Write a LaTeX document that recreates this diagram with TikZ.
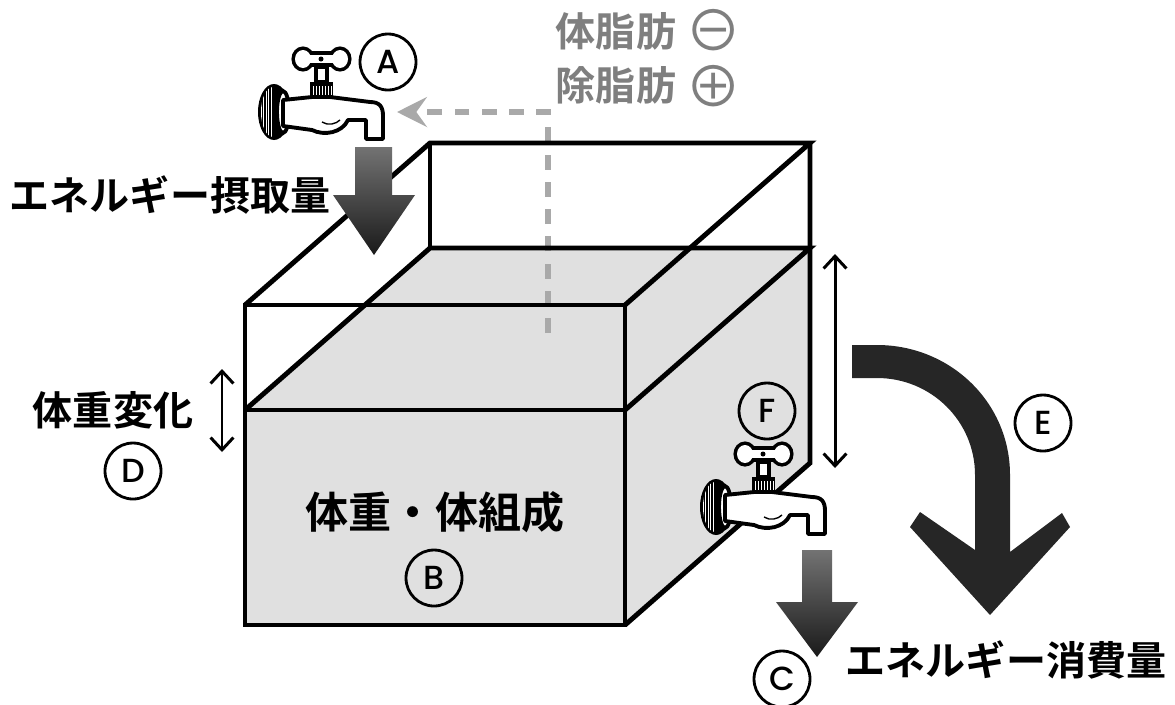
\documentclass[tikz,border=0pt]{standalone}
\usepackage{fontspec}
\usepackage{tikz}
\usetikzlibrary{arrows.meta}
\setmainfont{Poppins}
\newfontfamily\tagfont{Poppins Medium}
\newfontfamily\jpfont{Noto Sans CJK JP}[BoldFont={* Bold}]
\definecolor{TankGray}{HTML}{E0E0E0}
\definecolor{DashGray}{HTML}{A9A9A9}
\definecolor{NoteGray}{HTML}{7F7F7F}
\definecolor{FlowDark}{HTML}{262626}

\tikzset{
  jptext/.style={inner sep=0pt, font=\jpfont\bfseries\fontsize{22.8}{26}\selectfont},
  notetext/.style={jptext, text=NoteGray},
  signtext/.style={inner sep=0pt, text=NoteGray, font=\jpfont\fontsize{32}{32}\selectfont},
  tag/.style={circle, draw, line width=1.6pt, minimum size=1.12cm, inner sep=0pt,
    font=\tagfont\fontsize{19}{19}\selectfont},
  edge/.style={line width=2.8pt},
  faucet/.pic={
    % knurled wheel
    \fill (2,0) ellipse [x radius=16, y radius=28];
    \begin{scope}
      \clip (1,0) ellipse [x radius=12, y radius=25];
      \foreach \k in {-11,-8.5,...,1} \draw[white, line width=0.5pt] (\k,-26) -- (\k,26);
    \end{scope}
    \filldraw[fill=white, line width=2.2pt] (11,0) ellipse [x radius=6, y radius=21];
    % body and spout
    \filldraw[fill=white, line width=2.2pt, line join=round]
      (11,-12) -- (40,-15) -- (58,-15) -- (98,-10)
      .. controls (108,-10) and (111,-5) .. (111,4) -- (111,27) -- (94,27) -- (94,8) -- (76,8)
      .. controls (70,21) and (52,24) .. (40,18) -- (11,14) -- cycle;
    \draw[line width=0.8pt] (50,10) .. controls (56,14) and (64,12) .. (68,8);
    % bonnet nut
    \fill (38,-30) rectangle (61,-13);
    \foreach \k in {41,44,...,59} \draw[white, line width=0.4pt] (\k,-26) -- (\k,-17);
    \filldraw[fill=white, line width=2pt] (44,-45) rectangle (55,-30);
    % handle
    \begin{scope}[line width=4pt]
      \draw (31,-53) ellipse [x radius=8, y radius=9];
      \draw (68,-53) ellipse [x radius=8, y radius=9];
      \draw (31,-57) rectangle (68,-49);
    \end{scope}
    \fill[white] (31,-53) ellipse [x radius=8, y radius=9];
    \fill[white] (68,-53) ellipse [x radius=8, y radius=9];
    \fill[white] (31,-57) rectangle (68,-49);
    \fill (49,-53) circle [radius=2.5];
  }
}

\begin{document}
\begin{tikzpicture}[x=0.02cm,y=-0.02cm]
\path[use as bounding box] (0,0) rectangle (1175,704);

% tank corners
\coordinate (ftl) at (245,305);
\coordinate (ftr) at (625,305);
\coordinate (fwl) at (245,410);
\coordinate (fwr) at (625,410);
\coordinate (fbl) at (245,625);
\coordinate (fbr) at (625,625);
\coordinate (btl) at (430,143);
\coordinate (btr) at (810,143);
\coordinate (bwl) at (430,248);
\coordinate (bwr) at (810,248);
\coordinate (bbr) at (810,463);

% water
\fill[TankGray] (fwl) -- (fwr) -- (fbr) -- (fbl) -- cycle;
\fill[TankGray] (fwl) -- (bwl) -- (bwr) -- (fwr) -- cycle;
\fill[TankGray] (fwr) -- (bwr) -- (bbr) -- (fbr) -- cycle;

% fat flow
\coordinate (dashlow) at (548,333);
\coordinate (dashturn) at (548,112);
\coordinate (dashend) at (397,112);
\draw[DashGray, line width=3.4pt, dash pattern=on 8.5pt off 7pt,
  -{Stealth[length=17pt,width=17pt,inset=6pt]}] (dashlow) -- (dashturn) -- (dashend);

% tank edges
\draw[edge] (ftl) -- (ftr) -- (fbr) -- (fbl) -- cycle;
\draw[edge] (fwl) -- (fwr);
\draw[edge] (ftl) -- (btl) -- (btr) -- (ftr);
\draw[edge] (btr) -- (bbr) -- (fbr);
\draw[edge] (btl) -- (bwl);
\draw[edge] (fwl) -- (bwl) -- (bwr) -- (fwr);

% intake and outflow
\shade[top color=black!55, bottom color=black!90]
  (355,147) -- (392,147) -- (392,195) -- (415,195) -- (374,255) -- (333,195) -- (355,195) -- cycle;
\shade[top color=black!55, bottom color=black!90]
  (802,550) -- (832,550) -- (832,602) -- (858,602) -- (817,657) -- (776,602) -- (802,602) -- cycle;
\fill[FlowDark] (852,345) -- (877,345) .. controls (950,345) and (1010,402) .. (1010,475)
  -- (1010,552) -- (1062,513) -- (1070,527) -- (990,615) -- (910,527) -- (920,512) -- (975,550)
  -- (975,475) .. controls (975,421) and (931,378) .. (877,378) -- (852,378) -- cycle;

% level changes
\coordinate (levtop) at (835,254);
\coordinate (levbot) at (835,468);
\draw[line width=1.7pt, {Straight Barb[length=7pt,width=13pt]}-{Straight Barb[length=7pt,width=13pt]}] (levtop) -- (levbot);
\coordinate (wtop) at (222,369);
\coordinate (wbot) at (222,452);
\draw[line width=1.7pt, {Straight Barb[length=7pt,width=13pt]}-{Straight Barb[length=7pt,width=13pt]}] (wtop) -- (wbot);

% taps
\pic at (272,112) {faucet};
\pic at (714,507) {faucet};

% labels
\node[notetext] (fat) at (616,31) {体脂肪};
\node[notetext] (lean) at (616,85) {除脂肪};
\node[signtext] (minus) at (714,30) {⊖};
\node[signtext] (plus) at (714,86) {⊕};
\node[jptext] (intake) at (170,195) {エネルギー摂取量};
\node[jptext] (change) at (113,410) {体重変化};
\node[jptext, font=\jpfont\bfseries\fontsize{24.5}{28}\selectfont] (body) at (435,512) {体重・体組成};
\node[jptext] (expend) at (1006,660) {エネルギー消費量};

\node[tag] (tagA) at (388,62) {A};
\node[tag] (tagB) at (434,578) {B};
\node[tag] (tagC) at (782,679) {C};
\node[tag] (tagD) at (133,471) {D};
\node[tag] (tagE) at (1043,423) {E};
\node[tag] (tagF) at (767,411) {F};
\end{tikzpicture}
\end{document}
